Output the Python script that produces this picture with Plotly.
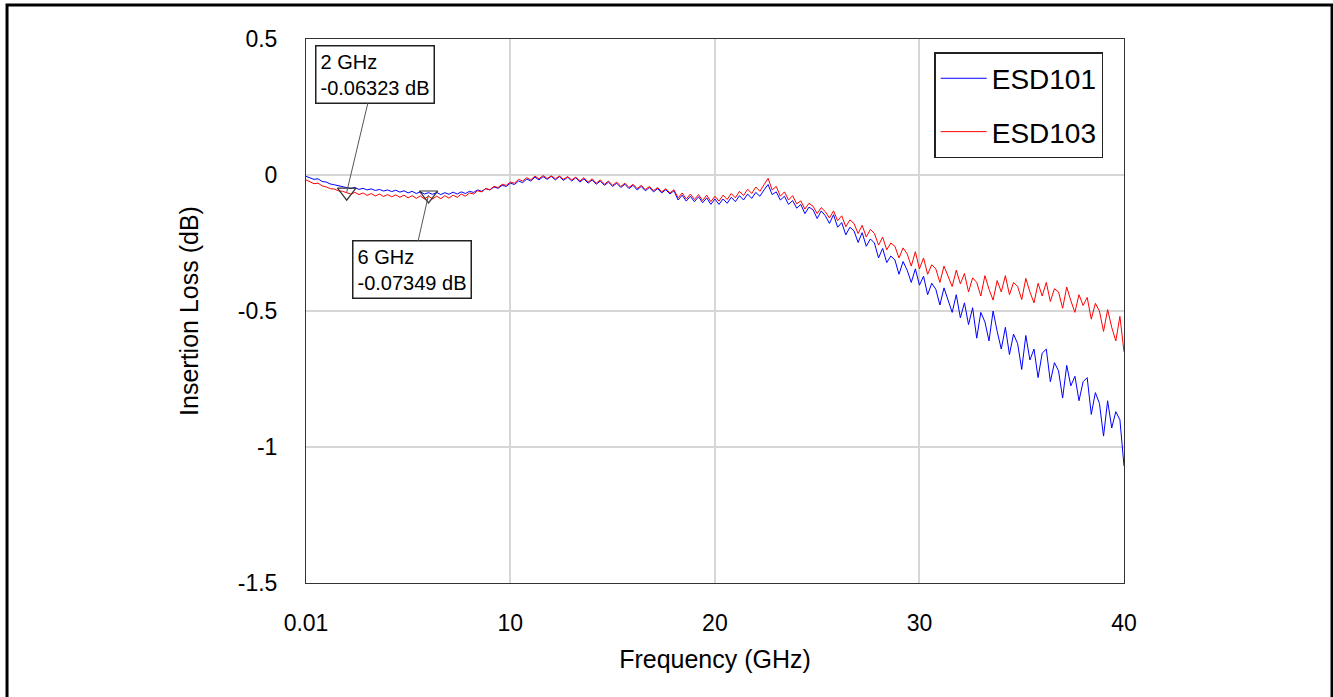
import plotly.graph_objects as go

# Frequency sweep (GHz): 0.01 then 0.2 GHz steps to 40 GHz
freq = [0.01] + [round(0.2 * i, 1) for i in range(1, 201)]

esd101 = [
    -0.005,
    -0.010, -0.016, -0.014, -0.024, -0.026, -0.033, -0.036, -0.040, -0.044, -0.048,
    -0.050, -0.046, -0.053, -0.049, -0.055, -0.051, -0.057, -0.053, -0.059, -0.055,
    -0.061, -0.056, -0.063, -0.058, -0.066, -0.060, -0.068, -0.062, -0.070, -0.065,
    -0.071, -0.064, -0.072, -0.065, -0.071, -0.063, -0.070, -0.062, -0.068, -0.060,
    -0.064, -0.055, -0.060, -0.050, -0.055, -0.044, -0.049, -0.038, -0.042, -0.030,
    -0.035, -0.022, -0.028, -0.015, -0.022, -0.008, -0.018, -0.006, -0.016, -0.005,
    -0.018, -0.006, -0.020, -0.008, -0.022, -0.010, -0.026, -0.014, -0.030, -0.018,
    -0.034, -0.022, -0.038, -0.026, -0.042, -0.030, -0.046, -0.034, -0.050, -0.038,
    -0.055, -0.042, -0.058, -0.046, -0.062, -0.050, -0.066, -0.054, -0.070, -0.058,
    -0.092, -0.074, -0.096, -0.078, -0.098, -0.080, -0.102, -0.084, -0.108, -0.088,
    -0.108, -0.088, -0.104, -0.082, -0.098, -0.076, -0.092, -0.070, -0.086, -0.064,
    -0.078, -0.055, -0.035, -0.072, -0.062, -0.092, -0.078, -0.108, -0.094, -0.122,
    -0.108, -0.142, -0.118, -0.128, -0.160, -0.132, -0.150, -0.178, -0.146, -0.192,
    -0.175, -0.220, -0.192, -0.205, -0.248, -0.212, -0.262, -0.235, -0.250, -0.305,
    -0.270, -0.322, -0.298, -0.312, -0.365, -0.318, -0.350, -0.395, -0.345, -0.405,
    -0.372, -0.440, -0.398, -0.420, -0.478, -0.415, -0.462, -0.505, -0.440, -0.525,
    -0.470, -0.550, -0.488, -0.600, -0.505, -0.540, -0.610, -0.500, -0.575, -0.640,
    -0.560, -0.660, -0.585, -0.620, -0.715, -0.590, -0.680, -0.640, -0.745, -0.655,
    -0.640, -0.760, -0.690, -0.720, -0.820, -0.700, -0.775, -0.740, -0.830, -0.760,
    -0.745, -0.880, -0.800, -0.840, -0.960, -0.830, -0.930, -0.870, -0.900, -1.070,
]

esd103 = [
    -0.018,
    -0.025, -0.032, -0.030, -0.040, -0.044, -0.050, -0.052, -0.058, -0.060, -0.066,
    -0.070, -0.064, -0.072, -0.066, -0.075, -0.068, -0.077, -0.070, -0.079, -0.072,
    -0.080, -0.073, -0.082, -0.074, -0.084, -0.076, -0.086, -0.077, -0.088, -0.078,
    -0.088, -0.078, -0.087, -0.076, -0.085, -0.074, -0.082, -0.070, -0.078, -0.066,
    -0.070, -0.058, -0.062, -0.050, -0.054, -0.042, -0.046, -0.034, -0.038, -0.026,
    -0.030, -0.016, -0.022, -0.010, -0.018, -0.004, -0.014, -0.002, -0.013, -0.003,
    -0.014, -0.004, -0.016, -0.006, -0.018, -0.008, -0.022, -0.010, -0.026, -0.014,
    -0.030, -0.018, -0.034, -0.022, -0.038, -0.026, -0.042, -0.030, -0.046, -0.034,
    -0.050, -0.038, -0.054, -0.042, -0.058, -0.046, -0.062, -0.050, -0.066, -0.054,
    -0.084, -0.066, -0.088, -0.070, -0.090, -0.072, -0.094, -0.074, -0.098, -0.078,
    -0.096, -0.074, -0.090, -0.068, -0.084, -0.060, -0.076, -0.052, -0.068, -0.044,
    -0.060, -0.036, -0.012, -0.055, -0.042, -0.078, -0.062, -0.092, -0.076, -0.106,
    -0.095, -0.125, -0.104, -0.115, -0.142, -0.120, -0.135, -0.158, -0.132, -0.168,
    -0.150, -0.190, -0.165, -0.178, -0.215, -0.185, -0.228, -0.200, -0.215, -0.258,
    -0.228, -0.275, -0.250, -0.262, -0.305, -0.268, -0.290, -0.335, -0.282, -0.345,
    -0.305, -0.365, -0.330, -0.345, -0.395, -0.335, -0.372, -0.410, -0.350, -0.400,
    -0.362, -0.430, -0.378, -0.395, -0.445, -0.370, -0.420, -0.460, -0.388, -0.430,
    -0.370, -0.440, -0.395, -0.410, -0.458, -0.380, -0.430, -0.470, -0.398, -0.445,
    -0.395, -0.465, -0.418, -0.430, -0.490, -0.412, -0.462, -0.505, -0.440, -0.480,
    -0.450, -0.530, -0.472, -0.500, -0.575, -0.495, -0.560, -0.610, -0.520, -0.650,
]

marker_freq = [2, 6]
marker_val = [-0.06323, -0.07349]
marker_text = ["2 GHz<br>-0.06323 dB", "6 GHz<br>-0.07349 dB"]

x_tickvals = [0.01, 10, 20, 30, 40]
x_ticktext = ["0.01", "10", "20", "30", "40"]
y_tickvals = [0.5, 0, -0.5, -1, -1.5]
y_ticktext = ["0.5", "0", "-0.5", "-1", "-1.5"]

FONT = "Liberation Sans, Arial, sans-serif"

fig = go.Figure()
fig.add_trace(go.Scatter(x=freq, y=esd101, mode="lines", name="ESD101",
                         line=dict(color="#0000FF", width=1), legendgroup="a"))
fig.add_trace(go.Scatter(x=freq, y=esd103, mode="lines", name="ESD103",
                         line=dict(color="#FF0000", width=1), legendgroup="b"))
fig.add_trace(go.Scatter(x=marker_freq, y=marker_val, mode="markers", showlegend=False,
                         marker=dict(symbol="triangle-down-open", size=16,
                                     color="#333333", line=dict(width=1.2, color="#333333"))))

offsets = [(28, -118), (-17, 75)]
for fx, fv, txt, (ax, ay) in zip(marker_freq, marker_val, marker_text, offsets):
    fig.add_annotation(x=fx, y=fv, text=txt, showarrow=True, arrowhead=0,
                       arrowwidth=1, arrowcolor="#555555", ax=ax, ay=ay,
                       align="left", font=dict(family=FONT, size=20, color="black"),
                       bgcolor="white", bordercolor="#222222", borderwidth=1.5,
                       borderpad=4)

# outer frame
fig.add_shape(type="rect", xref="paper", yref="paper",
              x0=-0.3655, x1=1.2543, y0=-0.25, y1=1.0625,
              line=dict(color="black", width=3), fillcolor="rgba(0,0,0,0)")

fig.update_layout(
    width=1333, height=697,
    margin=dict(l=306, r=209, t=39, b=114),
    paper_bgcolor="white", plot_bgcolor="white",
    font=dict(family=FONT, size=23, color="black"),
    legend=dict(x=0.768, y=0.976, xanchor="left", yanchor="top",
                bgcolor="white", bordercolor="#222222", borderwidth=1.5,
                font=dict(family=FONT, size=28, color="black"),
                traceorder="grouped", tracegroupgap=14, itemwidth=46),
    xaxis=dict(range=[0.01, 40], tickvals=x_tickvals, ticktext=x_ticktext,
               showgrid=True, gridcolor="#d6d6d6", gridwidth=1.5,
               showline=True, mirror=True, linecolor="#333333", linewidth=1,
               zeroline=False, ticks="", ticklabelstandoff=19,
               title=dict(text="Frequency (GHz)", font=dict(size=25), standoff=15)),
    yaxis=dict(range=[-1.5, 0.5], tickvals=y_tickvals, ticktext=y_ticktext,
               showgrid=True, gridcolor="#d6d6d6", gridwidth=1.5,
               showline=True, mirror=True, linecolor="#333333", linewidth=1,
               zeroline=False, ticks="", ticklabelstandoff=23,
               title=dict(text="Insertion Loss (dB)", font=dict(size=25), standoff=32)),
)

fig.write_html("out.html", config={"displayModeBar": False},
               post_script="document.body.style.margin='0';")
